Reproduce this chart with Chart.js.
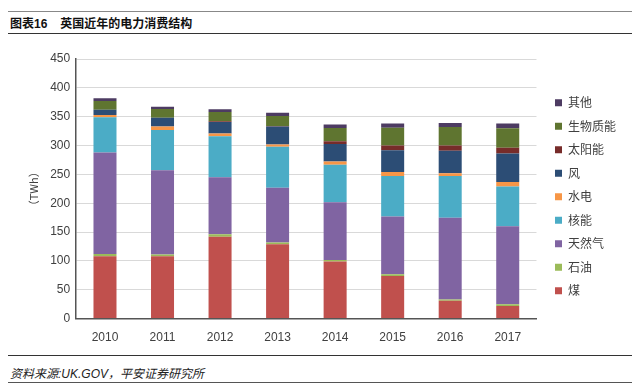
<!DOCTYPE html>
<html>
<head>
<meta charset="utf-8">
<script src="https://cdn.jsdelivr.net/npm/chart.js@4"></script>
<style>
  body { margin: 0; width: 640px; height: 391px; background: #fff; position: relative; overflow: hidden;
         font-family: 'Liberation Sans', 'Noto Sans CJK SC', sans-serif; }
  .rule { position: absolute; left: 8px; width: 624px; }
  #title { position: absolute; left: 10px; top: 14px; font-size: 12px; font-weight: bold; color: #111;
           font-family: 'Liberation Sans', 'Noto Sans CJK SC', sans-serif; }
  #title span { margin-left: 13px; }
  #source { position: absolute; left: 10px; top: 364px; font-size: 12px; font-style: italic; color: #222; }
  #wrap { position: absolute; left: 0; top: 40px; width: 640px; height: 319px; }
</style>
</head>
<body>
<div class="rule" style="top:11px;border-top:1px solid #888;"></div>
<div id="title">图表16<span>英国近年的电力消费结构</span></div>
<div class="rule" style="top:33px;border-top:1px solid #333;"></div>
<div id="wrap"><canvas id="myChart"></canvas></div>
<div class="rule" style="top:355px;border-top:1px solid #333;"></div>
<div id="source">资料来源:UK.GOV，平安证券研究所</div>
<div class="rule" style="top:382px;border-top:1px solid #555;"></div>
<script>
// years and consumption by source, TWh
const years = ['2010', '2011', '2012', '2013', '2014', '2015', '2016', '2017'];
const coal    = [108, 108, 142, 129, 99, 74, 31, 22];
const oil     = [4, 3, 4, 3, 2.5, 3, 2, 3];
const gas     = [176, 146, 99, 95, 100, 100, 142, 135];
const nuclear = [61, 70, 71, 71, 65, 70, 72, 69];
const hydro   = [4, 6, 5, 4, 6, 7, 5, 8];
const wind    = [9, 15, 20, 31, 30, 38, 39, 49];
const solar   = [0, 0.3, 1, 1, 5, 8, 9, 10];
const biomass = [15, 15, 16, 17, 23, 31, 32, 34];
const other   = [5, 4, 5, 6, 6, 7, 7, 8];

const names  = ['煤', '石油', '天然气', '核能', '水电', '风', '太阳能', '生物质能', '其他'];
const series = [coal, oil, gas, nuclear, hydro, wind, solar, biomass, other];
const colors = ['#C0504D', '#9BBB59', '#8064A2', '#4BACC6', '#F79646', '#2C4D75', '#772C2A', '#5F7530', '#4D3B62'];

const datasets = series.map((d, i) => ({
  label: names[i],
  data: d,
  backgroundColor: colors[i],
  borderWidth: 0,
  barPercentage: 0.4,
  categoryPercentage: 1,
}));

const ctx = document.getElementById('myChart').getContext('2d');
const myChart = new Chart(ctx, {
  type: 'bar',
  data: { labels: years, datasets: datasets },
  options: {
    responsive: true,
    maintainAspectRatio: false,
    animation: false,
    layout: { padding: { top: 19, right: 14, bottom: 2, left: 23 } },
    plugins: {
      tooltip: { enabled: false },
      legend: {
        position: 'right',
        fullSize: false,
        reverse: true,
        title: { display: true, text: ' ', font: { size: 10 }, padding: 2 },
        labels: {
          boxWidth: 7, boxHeight: 7, padding: 11.5, color: '#404040',
          font: { size: 12, family: "'Noto Sans CJK SC', sans-serif" },
        },
      },
    },
    scales: {
      x: {
        stacked: true,
        grid: { display: false, drawTicks: false },
        border: { color: '#555', width: 1.5 },
        ticks: { color: '#404040', font: { size: 12 }, padding: 12 },
      },
      y: {
        stacked: true,
        min: 0, max: 450,
        ticks: { stepSize: 50, color: '#404040', font: { size: 12 }, padding: 6 },
        grid: { color: '#d9d9d9', drawTicks: false },
        border: { color: '#555', width: 1.5 },
        title: { display: true, text: '（TWh）', color: '#404040',
                 font: { size: 11, family: "'Noto Sans CJK SC', sans-serif" } },
      },
      // empty right-hand axis, only keeps a gap between the bars and the legend
      gap: {
        axis: 'y',
        position: 'right',
        grid: { display: false, drawTicks: false },
        border: { display: false },
        ticks: { display: false },
        afterFit: (scale) => { scale.width = 7; },
      },
    },
  },
});
</script>
</body>
</html>
